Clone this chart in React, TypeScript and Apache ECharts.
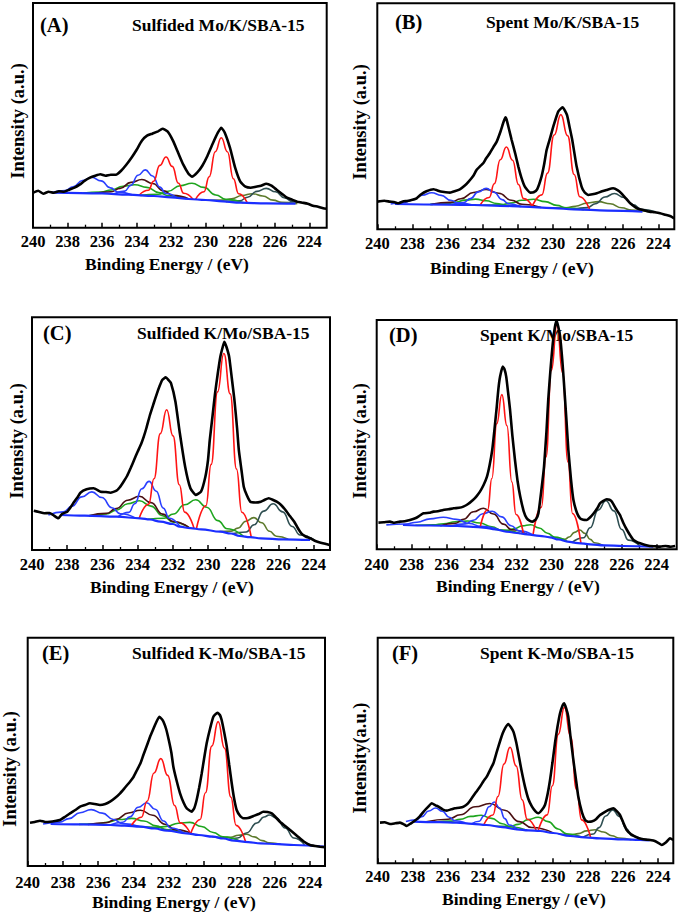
import React, { useEffect, useRef } from "react";
import * as echarts from "echarts";

const FONT = "Liberation Serif";

// x-axis tick values (binding energy, eV)
const majorTicks = [240, 238, 236, 234, 232, 230, 228, 226, 224];
const minorTicks = [239, 237, 235, 233, 231, 229, 227, 225];

// ---------- Panel A : Sulfided Mo/K/SBA-15 ----------
const aData = [[240.0,35],[239.7,37],[239.4,34],[239.1,36],[238.8,35],[238.5,36.5],[238.2,36],[237.9,38],[237.6,40],[237.3,43],[237.0,47],[236.7,50],[236.4,52],[236.1,53.5],[235.8,52],[235.5,53],[235.2,53],[234.9,57],[234.6,63],[234.3,70],[234.0,78],[233.7,87],[233.4,92],[233.1,94],[232.8,96],[232.5,99],[232.2,96],[231.9,87],[231.6,75],[231.3,63],[231.0,54],[230.8,51],[230.5,55],[230.2,62],[229.9,72],[229.6,84],[229.3,95],[229.1,100],[228.9,95],[228.6,80],[228.3,60],[228.0,46],[227.7,41],[227.4,40],[227.1,41],[226.8,42],[226.5,44],[226.2,42],[225.9,38],[225.6,34],[225.3,30],[225.0,28],[224.7,26],[224.4,25],[224.1,24],[223.8,22],[223.5,21],[223.2,19.5],[223.0,19]];
const aRed1 = [[227.6,25],[228.1,34],[228.4,49],[228.75,76],[229.1,90],[229.45,76],[229.8,51],[230.1,36],[230.6,28]];
const aRed2 = [[230.74,28.4],[231.28,34.5],[231.58,44.4],[231.94,61.3],[232.3,70.7],[232.66,62.3],[233.02,46.5],[233.32,37.4],[233.86,32.5]];
const aBlue1 = [[231.68,30],[232.31,34.2],[232.66,40.6],[233.08,51.7],[233.5,57.8],[233.92,52.4],[234.34,42.3],[234.69,36.6],[235.32,33.7]];
const aBlue2 = [[234.26,33],[235.07,35.6],[235.52,39.8],[236.06,46.8],[236.6,50.5],[237.14,47.2],[237.68,40.8],[238.13,37.2],[238.94,35]];
const aBrown = [[230.97,28.7],[231.91,32.4],[232.44,36.8],[233.07,44.2],[233.7,48.2],[234.33,45.3],[234.96,39.3],[235.49,36],[236.43,34.4]];
const aGreen1 = [[231.11,28.9],[232.14,31.9],[232.72,35.2],[233.41,40.3],[234.1,43],[234.79,41.5],[235.48,37.7],[236.06,35.7],[237.09,34.6]];
const aGreen2 = [[227.81,24.9],[228.84,28.3],[229.42,32.7],[230.11,40.3],[230.8,44.4],[231.49,42],[232.18,36.4],[232.76,33.5],[233.79,32.3]];
const aOlive = [[224.7,24],[225.6,25.4],[226.1,27.6],[226.7,31.7],[227.3,34],[227.9,32.2],[228.5,29],[229.0,27.6],[229.9,27.5]];
const aTeal = [[224.16,24],[224.97,26],[225.42,29.7],[225.96,35.9],[226.5,39.3],[227.04,36.3],[227.58,30.4],[228.03,27],[228.84,26.1]];
const aBg = [[224.8,24],[226.5,24.3],[228,25],[229,26.3],[230,27.7],[231,28.7],[232,30.3],[233,31.7],[234.5,33],[236,34.3],[238.8,35]];

// ---------- Panel B : Spent Mo/K/SBA-15 ----------
const bData = [[240,27.7],[239.6,28.5],[239.3,27.7],[239.0,27],[238.8,26],[238.5,28],[238.3,28.3],[238.0,29.5],[237.76,31],[237.5,35],[237.2,38],[236.8,40],[236.4,37.7],[236.1,37],[235.86,36.7],[235.6,38],[235.3,40],[235.0,44],[234.8,47.7],[234.55,53],[234.35,59.3],[234.15,63],[233.97,66],[233.8,71],[233.6,76],[233.4,82],[233.2,87.7],[233.0,97],[232.8,108],[232.7,112],[232.64,110],[232.5,100],[232.35,89.3],[232.15,76],[231.97,62.7],[231.8,52],[231.6,42.7],[231.3,36.7],[231.1,37],[230.9,40],[230.65,52.7],[230.5,65],[230.36,79.3],[230.15,92],[229.98,102.7],[229.7,117.7],[229.45,122],[229.2,114.3],[229.05,102],[228.9,89.3],[228.65,62.7],[228.37,42.7],[228.2,37],[228.0,34.3],[227.75,35],[227.5,36],[227.2,38],[226.95,39.3],[226.57,41],[226.3,39],[226.1,36],[225.85,31],[225.6,26],[225.3,22],[225.05,20],[224.8,19],[224.5,17.7],[224.2,17],[223.9,16],[223.6,14.5],[223.3,13],[223.1,11]];
const bRed1 = [[227.9,19.3],[228.47,32.5],[228.79,54.8],[229.17,93.7],[229.55,114.7],[229.93,94.3],[230.31,56.2],[230.63,34.4],[231.2,22.2]];
const bRed2 = [[231.15,22.2],[231.67,30.7],[231.96,44.8],[232.3,69.1],[232.65,82.3],[233.0,69.5],[233.34,45.5],[233.63,31.8],[234.15,24.1]];
const bBlue1 = [[231.85,22.8],[232.52,25.5],[232.9,29.7],[233.35,37],[233.8,40.9],[234.25,37.4],[234.7,30.7],[235.08,26.8],[235.75,24.7]];
const bBlue2 = [[234.56,24.3],[235.37,26.2],[235.82,29],[236.36,33.9],[236.9,36.6],[237.44,34.1],[237.98,29.4],[238.43,26.8],[239.24,25.3]];
const bBrown = [[230.68,21.8],[231.76,25],[232.36,29.1],[233.08,36],[233.8,39.9],[234.52,36.8],[235.24,30.5],[235.84,26.9],[236.92,24.9]];
const bGreen1 = [[231.8,22.8],[232.7,24.1],[233.2,25.8],[233.8,28.6],[234.4,30.2],[235.0,29.2],[235.6,26.8],[236.1,25.5],[237.0,24.9]];
const bGreen2 = [[228.24,19.6],[229.23,21.5],[229.78,23.9],[230.44,27.7],[231.1,30.1],[231.76,29],[232.42,26.2],[232.97,24.6],[233.96,24]];
const bOlive = [[224.54,17.6],[225.53,19.3],[226.08,21.5],[226.74,25.5],[227.4,27.7],[228.06,26.2],[228.72,23.1],[229.27,21.6],[230.26,21.3]];
const bTeal = [[224.16,17.5],[224.97,20.1],[225.42,24.4],[225.96,31.8],[226.5,35.8],[227.04,32.3],[227.58,25.5],[228.03,21.7],[228.84,20.1]];
const bBg = [[224.9,17.7],[226.9,18.7],[228.8,20],[230,21.1],[231.7,22.7],[233,23.5],[234.5,24.3],[236,24.7],[239,25.3]];

// ---------- Panel C : Sulfided K/Mo/SBA-15 ----------
const cData = [[239.9,39.3],[239.6,38],[239.3,36.7],[239.0,37],[238.8,35],[238.5,31.7],[238.3,36],[238.0,38.3],[237.8,43],[237.6,48.3],[237.4,53],[237.25,57.3],[236.9,60.7],[236.5,61.7],[236.1,58.3],[235.8,58],[235.55,57.3],[235.2,59.3],[235.0,63],[234.8,68.3],[234.6,74],[234.4,81.7],[234.2,90],[234.0,98.3],[233.8,106],[233.65,113.3],[233.5,122],[233.3,135],[233.1,146],[232.9,156.7],[232.75,164],[232.6,170],[232.4,172.7],[232.25,170],[232.1,166.7],[231.85,148.3],[231.6,116.7],[231.3,83.3],[231.0,61.7],[230.7,55],[230.4,58.3],[230.15,73.3],[230.0,90],[229.9,110],[229.75,133],[229.6,156.7],[229.45,176],[229.3,193.3],[229.15,204],[229.07,208.3],[228.95,203],[228.8,193.3],[228.65,172],[228.5,150],[228.35,122],[228.25,100],[228.1,80],[227.97,63.3],[227.8,55],[227.6,48.3],[227.3,47.5],[227.0,48.3],[226.8,50],[226.55,51.7],[226.3,50],[226.1,48.3],[225.85,45],[225.6,40],[225.35,34],[225.1,28.3],[224.9,22],[224.7,16.7],[224.45,13.5],[224.2,11.7],[223.9,9],[223.6,7.3],[223.3,6],[223.1,5]];
const cRed1 = [[227.54,12.7],[228.08,37.8],[228.38,80.9],[228.74,156.1],[229.1,196.5],[229.46,158.1],[229.82,85.6],[230.12,44.2],[230.66,21.1]];
const cRed2 = [[230.79,21.4],[231.33,37.9],[231.63,65.3],[231.99,114.1],[232.35,140.2],[232.71,116.4],[233.07,71.2],[233.37,45.9],[233.91,31.8]];
const cBlue1 = [[231.59,23.3],[232.2,31.7],[232.54,41.9],[232.94,58.8],[233.35,68.6],[233.76,61.2],[234.16,46.2],[234.5,37.6],[235.11,33.2]];
const cBlue2 = [[234.13,32],[234.98,36.2],[235.46,42.3],[236.03,52.5],[236.6,58.1],[237.17,53.1],[237.74,43.6],[238.22,38.1],[239.07,35]];
const cBrown = [[231.04,21.9],[231.97,28.5],[232.58,35.9],[233.24,47.4],[233.9,53.7],[234.56,49.8],[235.22,41.4],[235.77,36.6],[236.76,34.2]];
const cGreen1 = [[231.04,21.9],[231.97,27.9],[232.58,34.3],[233.24,43.9],[233.9,49.2],[234.56,46.3],[235.22,39.8],[235.77,36],[236.76,34.2]];
const cGreen2 = [[227.97,13.5],[228.91,21.2],[229.44,29.4],[230.07,42.7],[230.7,50.2],[231.33,45.2],[231.96,36],[232.49,31.8],[233.43,30.8]];
const cOlive = [[225.45,10.7],[226.12,13.8],[226.5,18.7],[226.95,27.3],[227.4,32.4],[227.85,28.8],[228.3,21.9],[228.68,18.9],[229.35,18.5]];
const cTeal = [[223.96,10],[224.77,15],[225.22,23.5],[225.76,38.1],[226.3,46.2],[226.84,38.9],[227.38,25.3],[227.83,18],[228.64,16.2]];
const cBg = [[224.2,10],[225.7,10.7],[227,11.7],[227.6,12.8],[228.2,14],[228.7,16.5],[229.3,18.3],[230.4,20.7],[231,21.8],[231.6,23.3],[232,26],[232.7,28.3],[233.3,30.5],[233.85,31.7],[235.2,33.3],[237,34.3],[238.4,35]];

// ---------- Panel D : Spent K/Mo/SBA-15 ----------
const dData = [[239.9,26.7],[239.6,27],[239.24,27.7],[239.0,26.5],[238.67,27.7],[238.4,28],[238.1,29.3],[237.8,31],[237.6,33],[237.33,36],[237.0,36.5],[236.76,37.7],[236.5,38],[236.2,39.3],[235.9,40],[235.6,41],[235.3,41.5],[235.05,42.7],[234.8,45],[234.5,49.3],[234.3,53],[234.1,57.7],[233.9,64],[233.7,72.7],[233.55,84],[233.4,99.3],[233.27,120],[233.14,142.7],[233.05,160],[232.95,172.7],[232.8,182.7],[232.7,180],[232.6,172.7],[232.5,158],[232.38,139.3],[232.25,114],[232.1,89.3],[231.95,68],[231.8,52.7],[231.6,38],[231.43,31],[231.25,28.5],[231.1,27.7],[230.9,30],[230.76,36],[230.6,58],[230.44,82.7],[230.3,118],[230.2,149.3],[230.07,180],[229.94,206],[229.82,222],[229.72,229],[229.62,222],[229.52,212.7],[229.4,190],[229.3,166],[229.17,132],[229.05,99.3],[228.9,70],[228.76,49.3],[228.55,36],[228.38,31],[228.2,29.5],[228.0,29.3],[227.8,32],[227.6,36],[227.4,41],[227.24,46],[227.05,48.5],[226.86,50],[226.7,49.5],[226.57,47.7],[226.35,41],[226.1,34.3],[225.9,26],[225.7,19.3],[225.5,13.5],[225.33,9.3],[225.1,7],[224.95,6],[224.7,4.5],[224.4,3.3],[224.1,3],[223.8,2.7],[223.5,3.3],[223.2,2.5],[222.95,3.3]];
const dRed1 = [[228.33,5.9],[228.81,35.8],[229.07,87.2],[229.38,176.5],[229.7,224.8],[230.02,178.9],[230.33,92.1],[230.59,42.2],[231.07,14.3]];
const dRed2 = [[231.61,15.4],[232.04,34.8],[232.28,67.3],[232.56,123.7],[232.85,154.7],[233.14,125.7],[233.42,70.8],[233.66,39.5],[234.09,22]];
const dBlue1 = [[231.06,14.2],[231.87,18.4],[232.32,23.6],[232.86,32.4],[233.4,38],[233.94,35.6],[234.48,29],[234.93,25.4],[235.74,23.4]];
const dBlue2 = [[232.95,19],[234.07,23],[234.7,25.8],[235.45,29.9],[236.2,32.1],[236.95,30.4],[237.7,27.1],[238.33,25.3],[239.45,24.4]];
const dBrown = [[231.43,15],[232.28,19.6],[232.76,25.2],[233.33,35.3],[233.9,41],[234.47,37.6],[235.04,30.1],[235.52,25.9],[236.37,23.6]];
const dGreen1 = [[231.81,15.9],[232.84,19.1],[233.42,22.4],[234.11,26.3],[234.8,28.3],[235.49,27.6],[236.18,25.5],[236.76,24.4],[237.79,24]];
const dGreen2 = [[229.12,7.8],[229.84,12.2],[230.24,16.1],[230.72,21.3],[231.2,24.6],[231.68,23.4],[232.16,20.4],[232.56,19],[233.28,20]];
const dOlive = [[227.1,4.1],[227.55,6.5],[227.8,9.9],[228.1,15.9],[228.4,19.3],[228.7,16.9],[229.0,12.3],[229.25,10],[229.7,10.2]];
const dTeal = [[224.95,3],[225.62,9.2],[226.0,19.8],[226.45,38.4],[226.9,48.5],[227.35,39.2],[227.8,21.5],[228.18,11.6],[228.85,6.7]];
const dBg = [[224.2,2.7],[225.9,3.3],[227,4],[227.8,5],[228.5,6.2],[229.1,7.7],[229.6,9.8],[230.1,12],[230.7,13.5],[231.4,15],[232,16.3],[232.6,17.7],[233.2,19.8],[233.9,21.7],[234.5,22.5],[235.4,23.3],[237,23.8],[238.5,24.3]];

// ---------- Panel E : Sulfided K-Mo/SBA-15 ----------
const eData = [[239.87,43.3],[239.6,44],[239.3,45.3],[239.0,44],[238.73,44.3],[238.45,45],[238.17,46],[237.9,49],[237.6,52.7],[237.3,56],[237.03,59.3],[236.75,61],[236.47,62.7],[236.2,62],[235.9,61],[235.6,62],[235.33,64.3],[235.05,68],[234.76,72.7],[234.5,78],[234.2,84.3],[234.0,89],[233.8,96],[233.6,103],[233.44,111],[233.25,120],[233.06,129.3],[232.9,136],[232.78,141],[232.65,146],[232.53,149.3],[232.4,147],[232.3,144.3],[232.15,137],[232.0,126],[231.85,113],[231.74,99.3],[231.55,85],[231.36,72.7],[231.15,63],[230.98,57.7],[230.7,54.3],[230.55,58],[230.42,66],[230.28,78],[230.13,92.7],[230.0,107],[229.85,122.7],[229.65,138],[229.47,149.3],[229.24,153.3],[229.1,151],[229.0,146],[228.85,133],[228.71,119.3],[228.57,101],[228.43,82.7],[228.3,68],[228.15,56],[227.95,50],[227.77,47.7],[227.5,48],[227.2,50],[226.9,52],[226.64,54.3],[226.4,54],[226.16,52.7],[225.95,49],[225.7,44.3],[225.4,40],[225.12,36],[224.85,32],[224.56,27.7],[224.3,24],[223.99,21],[223.7,20],[223.42,19.3],[223.14,18.7]];
const eRed1 = [[227.64,24],[228.18,40.6],[228.48,68.9],[228.84,117.8],[229.2,144.4],[229.56,119.9],[229.92,73.2],[230.22,46.5],[230.76,32.1]];
const eRed2 = [[230.76,32.1],[231.35,43.1],[231.67,60.5],[232.06,90.6],[232.45,107.4],[232.84,93],[233.23,64.8],[233.55,48.8],[234.14,39.9]];
const eBlue1 = [[231.17,33.1],[231.89,38],[232.29,45],[232.77,56.7],[233.25,63.2],[233.73,58.7],[234.21,49.1],[234.61,43.7],[235.33,41]];
const eBlue2 = [[233.67,39.4],[234.61,42.4],[235.14,46.5],[235.77,52.9],[236.4,56.4],[237.03,53.3],[237.66,47.4],[238.19,43.9],[239.13,42]];
const eBrown = [[230.61,31.8],[231.64,36.4],[232.22,41.8],[232.91,50.7],[233.6,55.8],[234.29,53],[234.98,46.8],[235.56,43.3],[236.59,41.5]];
const eGreen1 = [[231.11,33],[232.14,36.4],[232.72,40.1],[233.41,45],[234.1,47.6],[234.79,46.5],[235.48,43.8],[236.06,42.3],[237.09,41.6]];
const eGreen2 = [[227.94,24.6],[228.93,29.1],[229.48,33.5],[230.14,39.5],[230.8,43.6],[231.46,42.8],[232.12,39.6],[232.67,38.7],[233.66,39.4]];
const eOlive = [[225.65,21.7],[226.32,23.2],[226.7,25.4],[227.15,29.1],[227.6,31.7],[228.05,30.7],[228.5,28.8],[228.88,28.4],[229.55,29.4]];
const eTeal = [[224.3,21],[224.9,28],[225.4,38],[225.9,48],[226.3,51],[226.6,49],[227.0,43],[227.6,33],[228.1,28],[228.6,26.5]];
const eBg = [[223.2,19.3],[224.9,21],[225.8,21.8],[226.8,22.7],[227.5,23.8],[228.3,25.3],[228.9,27.5],[229.5,29.3],[230.3,31],[231,32.7],[232.1,35.3],[232.8,37.5],[233.6,39.3],[234.5,40.3],[235.3,41],[237,41.6],[238.7,42]];

// ---------- Panel F : Spent K-Mo/SBA-15 ----------
const fData = [[239.87,40.7],[239.6,41],[239.3,39.3],[239.0,40],[238.73,40.7],[238.5,39],[238.35,37.3],[238.1,40],[237.87,42.7],[237.6,47],[237.3,53.3],[237.1,57],[236.92,60],[236.7,58],[236.54,56.7],[236.3,54],[236.06,52.7],[235.8,54],[235.59,55],[235.35,55.5],[235.1,56.7],[234.85,60],[234.64,65],[234.4,71],[234.16,76.7],[233.97,82],[233.78,86.7],[233.6,93],[233.4,100],[233.2,112],[233.0,123.3],[232.87,130],[232.74,135],[232.55,139.3],[232.4,136],[232.26,131.7],[232.1,121],[231.98,110],[231.8,93],[231.6,76.7],[231.4,64],[231.2,56.7],[231.0,52],[230.84,50],[230.65,53],[230.46,58.3],[230.3,70],[230.17,83.3],[230.03,101],[229.89,120],[229.75,136],[229.6,150],[229.45,158],[229.37,160],[229.25,155],[229.13,146.7],[229.0,126],[228.84,103.3],[228.7,85],[228.56,66.7],[228.35,51],[228.17,43.3],[227.98,41.5],[227.8,41.7],[227.55,44],[227.32,48.3],[227.08,51],[226.84,53.3],[226.56,55],[226.35,52],[226.18,48.3],[226.0,41],[225.8,33.3],[225.55,29],[225.32,26.7],[225.1,25],[224.85,24],[224.55,23.5],[224.28,22.7],[224.0,20.5],[223.8,18.3],[223.55,21],[223.33,25],[223.14,23.3]];
const fRed1 = [[227.85,25.6],[228.37,43.4],[228.66,73.9],[229.0,126.8],[229.35,155.9],[229.7,128.9],[230.04,77.6],[230.33,48.4],[230.85,32.4]];
const fRed2 = [[230.95,32.5],[231.47,44],[231.76,63.4],[232.1,97.2],[232.45,116],[232.8,99.2],[233.14,66.8],[233.43,48.3],[233.95,38.5]];
const fBlue1 = [[232.05,34],[232.5,38.3],[232.75,44.7],[233.05,55.3],[233.35,61.3],[233.65,56.6],[233.95,47.4],[234.2,42.1],[234.65,39.5]];
const fBlue2 = [[235.01,40.5],[235.6,42.6],[235.92,46.1],[236.31,52],[236.7,55.3],[237.09,52.3],[237.48,46.7],[237.8,43.5],[238.39,41.8]];
const fBrown = [[229.96,30.2],[231.22,35.8],[231.92,41.7],[232.76,53],[233.6,59.8],[234.44,56.5],[235.28,48.6],[235.98,44],[237.24,41.5]];
const fGreen1 = [[231.5,33.1],[232.4,36.3],[232.9,39.6],[233.5,44.9],[234.1,48],[234.7,46.9],[235.3,44],[235.8,42.2],[236.7,41.3]];
const fGreen2 = [[228.38,26.3],[229.23,29.5],[229.71,34.3],[230.28,41.7],[230.85,46.1],[231.42,43.7],[231.99,38.9],[232.47,36.9],[233.32,37.1]];
const fOlive = [[225.52,23.6],[226.24,25.3],[226.64,27.6],[227.12,31.3],[227.6,33.6],[228.08,32.4],[228.56,29.7],[228.96,28.2],[229.68,29.3]];
const fTeal = [[224.91,23.2],[225.5,27.5],[225.82,34.5],[226.21,46.8],[226.6,53.4],[226.99,47.3],[227.38,35.7],[227.7,29.3],[228.29,26.1]];
const fBg = [[224.5,23],[225.04,23.3],[226,24],[227.32,25],[228.2,26],[229.03,27.3],[230,30.3],[230.74,32.3],[231.4,33],[232.07,34],[232.9,36.2],[233.8,38.3],[234.6,39.5],[235.5,40.7],[236.5,41.2],[238,41.7]];

// ---------- colours ----------
const COL = {
  red: "#ff1414",
  blue: "#2a3fff",
  brown: "#4a1012",
  green: "#1ea51e",
  olive: "#5d7a2c",
  teal: "#2f4f52",
  bg: "#1b2eff",
  data: "#000000",
};

const panels = [
  { left: 33, top: 3, width: 293.7, height: 224.7, xmin: 223.0, margin: 5,
    data: aData, comps: [aOlive, aTeal, aGreen1, aGreen2, aBrown, aBlue2, aBlue1, aRed2, aRed1], bg: aBg,
    label: "(A)", lx: 40, ly: 25, title: "Sulfided Mo/K/SBA-15", tx: 132, ty: 25,
    yt: "Intensity (a.u.)", ytx: 18, yty: 121, xtx: 167, xty: 264 },
  { left: 377.3, top: 3.3, width: 297, height: 226, xmin: 223.09, margin: 6,
    data: bData, comps: [bOlive, bTeal, bGreen1, bGreen2, bBrown, bBlue2, bBlue1, bRed2, bRed1], bg: bBg,
    label: "(B)", lx: 395, ly: 22, title: "Spent Mo/K/SBA-15", tx: 486, ty: 22,
    yt: "Intensity (a.u.)", ytx: 360, yty: 122, xtx: 512, xty: 267.5 },
  { left: 32, top: 317.3, width: 298, height: 232.7, xmin: 223.07, margin: 6,
    data: cData, comps: [cOlive, cTeal, cGreen1, cGreen2, cBrown, cBlue2, cBlue1, cRed2, cRed1], bg: cBg,
    label: "(C)", lx: 43, ly: 333, title: "Sulfided K/Mo/SBA-15", tx: 137, ty: 333,
    yt: "Intensity (a.u.)", ytx: 17, yty: 441, xtx: 172, xty: 587 },
  { left: 376.7, top: 320, width: 300, height: 229.3, xmin: 222.86, margin: 6.5,
    data: dData, comps: [dOlive, dTeal, dGreen1, dGreen2, dBrown, dBlue2, dBlue1, dRed2, dRed1], bg: dBg,
    label: "(D)", lx: 389, ly: 335, title: "Spent K/Mo/SBA-15", tx: 480, ty: 335,
    yt: "Intensity (a.u.)", ytx: 360, yty: 441, xtx: 518, xty: 586 },
  { left: 27.7, top: 637.7, width: 297.3, height: 228.3, xmin: 223.14, margin: 7.5,
    data: eData, comps: [eOlive, eTeal, eGreen1, eGreen2, eBrown, eBlue2, eBlue1, eRed2, eRed1], bg: eBg,
    label: "(E)", lx: 42, ly: 653, title: "Sulfided K-Mo/SBA-15", tx: 132, ty: 653,
    yt: "Intensity (a.u.)", ytx: 9.5, yty: 769, xtx: 174, xty: 902 },
  { left: 377.7, top: 637.7, width: 295.6, height: 225.6, xmin: 223.14, margin: 4.5,
    data: fData, comps: [fOlive, fTeal, fGreen1, fGreen2, fBrown, fBlue2, fBlue1, fRed2, fRed1], bg: fBg,
    label: "(F)", lx: 392, ly: 653, title: "Spent K-Mo/SBA-15", tx: 480, ty: 653,
    yt: "Intensity(a.u.)", ytx: 360, yty: 758, xtx: 524, xty: 899 },
];

const compColors = [COL.olive, COL.teal, COL.green, COL.green, COL.brown, COL.blue, COL.blue, COL.red, COL.red];

function textEl(text: string, x: number, y: number, size: number, align: string, rotation = 0) {
  return {
    type: "text",
    x, y, rotation,
    silent: true,
    style: {
      text,
      fill: "#000",
      fontFamily: FONT,
      fontWeight: "bold",
      fontSize: size,
      align,
      verticalAlign: "middle",
      textAlign: align,
      textVerticalAlign: "middle",
    },
  };
}

export default function App() {
  const ref = useRef<HTMLDivElement>(null);
  useEffect(() => {
    if (!ref.current) return;
    const chart = echarts.init(ref.current, undefined, { renderer: "svg" });
    const grid: any[] = [];
    const xAxis: any[] = [];
    const yAxis: any[] = [];
    const series: any[] = [];
    const graphic: any[] = [];
    panels.forEach((p, i) => {
      grid.push({
        left: p.left, top: p.top, width: p.width, height: p.height,
        show: true, borderColor: "#000", borderWidth: 2, backgroundColor: "transparent",
      });
      xAxis.push({
        type: "value", gridIndex: i, min: p.xmin, max: 240, inverse: true, position: "bottom",
        axisLine: { show: false }, splitLine: { show: false },
        axisTick: { show: true, inside: true, length: 5, lineStyle: { color: "#000", width: 1.5 }, customValues: majorTicks },
        axisLabel: { show: true, customValues: majorTicks, margin: p.margin, color: "#000",
          fontFamily: FONT, fontWeight: "bold", fontSize: 16.5 },
      });
      xAxis.push({
        type: "value", gridIndex: i, min: p.xmin, max: 240, inverse: true, position: "bottom", offset: 0,
        axisLine: { show: false }, splitLine: { show: false },
        axisTick: { show: true, inside: true, length: 3, lineStyle: { color: "#000", width: 1.3 }, customValues: minorTicks },
        axisLabel: { show: false },
      });
      yAxis.push({ type: "value", gridIndex: i, min: 0, max: p.height, show: false });
      p.comps.forEach((c, k) => {
        series.push({
          type: "line", xAxisIndex: 2 * i, yAxisIndex: i, data: c,
          showSymbol: false, symbol: "none", smooth: 0.5, smoothMonotone: "x", silent: true,
          lineStyle: { color: compColors[k], width: 1.6 }, z: 2,
        });
      });
      series.push({
        type: "line", xAxisIndex: 2 * i, yAxisIndex: i, data: p.bg,
        showSymbol: false, symbol: "none", smooth: 0.4, smoothMonotone: "x", silent: true,
        lineStyle: { color: COL.bg, width: 2.2 }, z: 3,
      });
      series.push({
        type: "line", xAxisIndex: 2 * i, yAxisIndex: i, data: p.data,
        showSymbol: false, symbol: "none", smooth: 0.15, silent: true,
        lineStyle: { color: COL.data, width: 2.6 }, z: 4,
      });
      graphic.push(textEl(p.label, p.lx, p.ly, 20.5, "left"));
      graphic.push(textEl(p.title, p.tx, p.ty, 17.5, "left"));
      graphic.push(textEl(p.yt, p.ytx, p.yty, 18.5, "center", Math.PI / 2));
      graphic.push(textEl("Binding Energy / (eV)", p.xtx, p.xty, 17.5, "center"));
    });
    chart.setOption({
      animation: false,
      backgroundColor: "#ffffff",
      grid, xAxis, yAxis, series, graphic,
    });
    return () => chart.dispose();
  }, []);
  return <div ref={ref} style={{ position: "absolute", left: 0, top: 0, width: 680, height: 913 }} />;
}
